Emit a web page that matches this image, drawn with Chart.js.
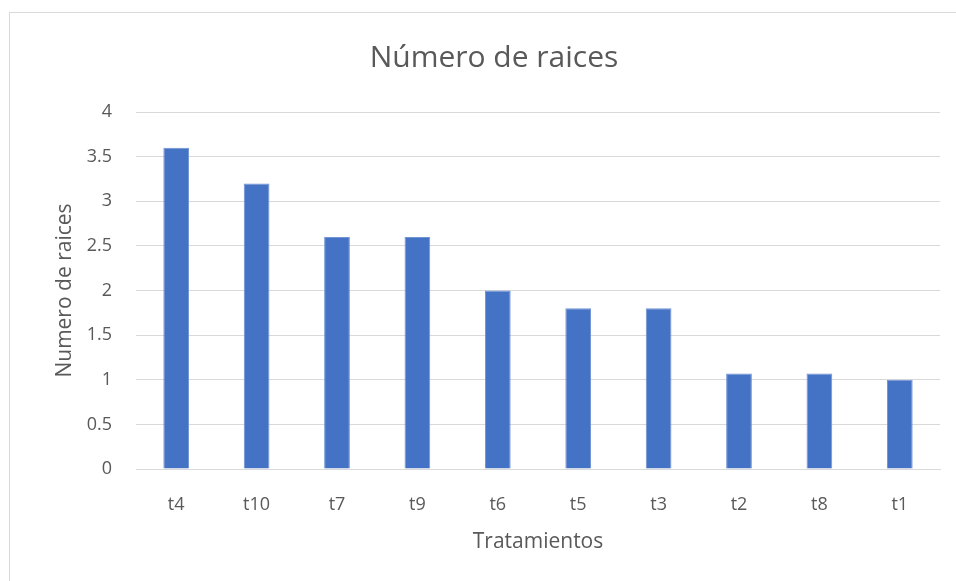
<!DOCTYPE html>
<html>
<head>
<meta charset="utf-8">
<script src="https://cdn.jsdelivr.net/npm/chart.js@4"></script>
<style>
  html, body { margin: 0; padding: 0; background: #fff; }
  #frame { position: absolute; left: 9px; top: 12px; width: 960px; height: 580px; border: 1px solid #d9d9d9; }
  #wrap { position: absolute; left: 0; top: 0; width: 956px; height: 581px; }
</style>
</head>
<body>
<div id="frame"></div>
<div id="wrap"><canvas id="chart"></canvas></div>
<script>
// values
const categories = ['t4', 't10', 't7', 't9', 't6', 't5', 't3', 't2', 't8', 't1'];
const raices = [3.6, 3.2, 2.6, 2.6, 2.0, 1.8, 1.8, 1.07, 1.07, 1.0];
const yTicks = [0, 0.5, 1, 1.5, 2, 2.5, 3, 3.5, 4];

const FONT = "'Open Sans', 'Liberation Sans', sans-serif";
const GREY = '#595959';

const ctx = document.getElementById('chart').getContext('2d');
new Chart(ctx, {
  type: 'bar',
  data: {
    labels: categories,
    datasets: [{
      label: 'Numero de raices',
      data: raices,
      backgroundColor: '#4472c4',
      borderColor: '#6f93d3',
      borderWidth: 1,
      categoryPercentage: 1,
      barPercentage: 0.32
    }]
  },
  options: {
    responsive: true,
    maintainAspectRatio: false,
    animation: false,
    layout: { padding: { left: 48, right: 16, top: 0, bottom: 22 } },
    plugins: {
      legend: { display: false },
      tooltip: { enabled: false },
      title: {
        display: true,
        text: 'Número de raices',
        color: GREY,
        font: { family: FONT, size: 30, weight: 'normal' },
        padding: { top: 40, bottom: 36 }
      }
    },
    scales: {
      x: {
        grid: { display: false },
        border: { color: '#d9d9d9' },
        ticks: { color: GREY, font: { family: FONT, size: 18 }, padding: 17 },
        title: {
          display: true, text: 'Tratamientos', color: GREY,
          font: { family: FONT, size: 21 }, padding: { top: 10 }
        },
        afterFit: s => { s.height = 90; }
      },
      y: {
        min: 0, max: 4,
        afterBuildTicks: s => { s.ticks = yTicks.map(v => ({ value: v })); },
        grid: { color: '#d9d9d9', lineWidth: 1, drawTicks: false },
        border: { display: false },
        ticks: {
          color: GREY, font: { family: FONT, size: 18 }, padding: 24,
          callback: v => String(v)
        },
        title: {
          display: true, text: 'Numero de raices', color: GREY,
          font: { family: FONT, size: 21 }, padding: { bottom: 6 }
        },
        afterFit: s => { s.width = 88; }
      }
    }
  }
});
</script>
</body>
</html>
